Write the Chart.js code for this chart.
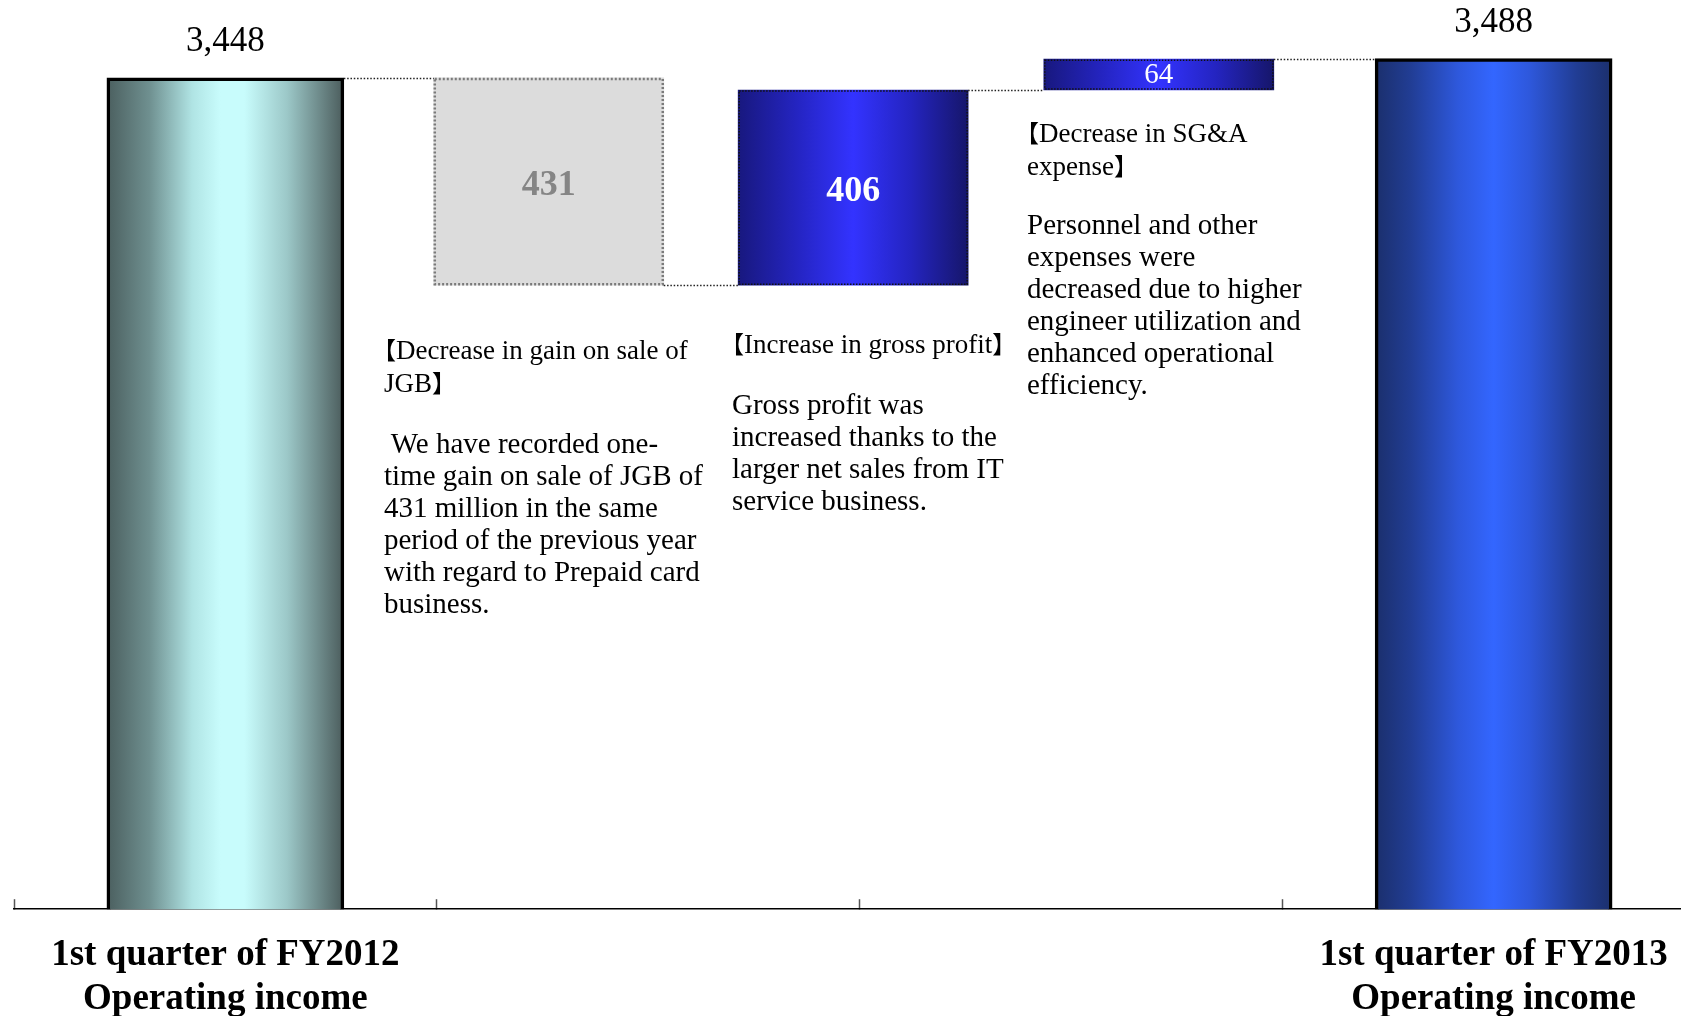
<!DOCTYPE html>
<html>
<head>
<meta charset="utf-8">
<title>Operating income bridge</title>
<script src="https://cdn.jsdelivr.net/npm/chart.js@4.4.1/dist/chart.umd.min.js"></script>
<style>
html, body { margin:0; padding:0; background:#fff; overflow:hidden; }
#wrap { position:relative; width:1720px; height:1056px; }
#wrap canvas { position:absolute; left:0; top:0; }
.note { position:absolute; font-family:"Liberation Serif","Times New Roman",serif; color:#000; white-space:pre; line-height:32px; }
.h { font-size:27px; line-height:31px; }
.b { font-size:29px; }
.br { font-family:"Noto Sans CJK JP",sans-serif; font-size:24px; margin-left:-12px; }
.br2 { font-family:"Noto Sans CJK JP",sans-serif; font-size:24px; }
</style>
</head>
<body>
<div id="wrap">
<canvas id="chart" width="1720" height="1056"></canvas>
<div class="note h" style="left:384px; top:333px"><span class="br">【</span>Decrease in gain on sale of
JGB<span class="br2">】</span></div>
<div class="note b" style="left:384px; top:427px"> We have recorded one-
time gain on sale of JGB of
431 million in the same
period of the previous year
with regard to Prepaid card
business.</div>
<div class="note h" style="left:732px; top:327px"><span class="br">【</span>Increase in gross profit<span class="br2">】</span></div>
<div class="note b" style="left:732px; top:388px">Gross profit was
increased thanks to the
larger net sales from IT
service business.</div>
<div class="note h" style="left:1027px; top:116px"><span class="br">【</span>Decrease in SG&amp;A
expense<span class="br2">】</span></div>
<div class="note b" style="left:1027px; top:208px">Personnel and other
expenses were
decreased due to higher
engineer utilization and
enhanced operational
efficiency.</div>
</div>
<script>
// values (million yen)
var categoryLabels = [['1st quarter of FY2012', 'Operating income'], ['1st quarter of FY2013', 'Operating income']];
var totalValues = [3448, 3488];
var stepValues = [-431, 406, 64];
// where each bar sits on the x axis (axis units, ticks every 1)
var totalSlots = [0.5, 3.5];
var stepSlots = [1.265, 1.985, 2.708];
var slotTicks = [0, 1, 2, 3, 4];

// running levels for the floating steps
var level = totalValues[0];
var levels = [level];
var stepData = [];
for (var i = 0; i < stepValues.length; i++) {
    var next = level + stepValues[i];
    stepData.push({x: stepSlots[i], y: [Math.min(level, next), Math.max(level, next)]});
    level = next;
    levels.push(level);
}
var totalData = [];
for (var i = 0; i < totalValues.length; i++) {
    totalData.push({x: totalSlots[i], y: totalValues[i]});
}

var tealStops = [[0, '#4b5f5f'], [0.18, '#6f9090'], [0.36, '#b0e4e4'], [0.48, '#c8fcfc'], [0.58, '#c8fcfc'], [0.76, '#9cc8c8'], [1, '#4b5c5c']];
var navyStops = [[0, '#1b2f6c'], [0.15, '#213d94'], [0.35, '#2e58dc'], [0.5, '#3366ff'], [0.65, '#2e58dc'], [0.85, '#213d94'], [1, '#1b2f6c']];
var blueStops = [[0, '#18187e'], [0.25, '#2424c0'], [0.5, '#3333ff'], [0.75, '#2424c0'], [1, '#16166a']];

function barGradient(ctx, stops) {
    var chart = ctx.chart;
    if (!chart.chartArea || !chart.scales.x) return stops[0][1];
    var cx = chart.scales.x.getPixelForValue(ctx.raw.x);
    var w = ctx.dataset.barThickness;
    var g = chart.ctx.createLinearGradient(cx - w / 2, 0, cx + w / 2, 0);
    for (var k = 0; k < stops.length; k++) g.addColorStop(stops[k][0], stops[k][1]);
    return g;
}

var waterfallDecor = {
    id: 'waterfallDecor',
    afterDatasetsDraw: function(chart) {
        var c = chart.ctx;
        var yS = chart.scales.y;
        var tot = chart.getDatasetMeta(0).data;
        var stp = chart.getDatasetMeta(1).data;
        var seq = [tot[0]].concat(stp, [tot[1]]);
        c.save();
        // dotted outlines of the steps
        for (var i = 0; i < stp.length; i++) {
            var el = stp[i];
            var top = Math.min(el.y, el.base), bot = Math.max(el.y, el.base);
            var left = el.x - el.width / 2;
            if (stepValues[i] < 0) {
                c.strokeStyle = '#7a7a7a'; c.lineWidth = 2.5; c.setLineDash([2, 2]);
            } else {
                c.strokeStyle = '#111'; c.lineWidth = 1.5; c.setLineDash([1.5, 1.5]);
            }
            c.strokeRect(left + 1, top + 1, el.width - 2, bot - top - 2);
        }
        // connectors
        c.strokeStyle = '#222'; c.lineWidth = 1.5; c.setLineDash([1.5, 1.8]);
        for (var k = 0; k < seq.length - 1; k++) {
            var y = Math.round(yS.getPixelForValue(levels[k])) + 0.5;
            c.beginPath();
            c.moveTo(seq[k].x + seq[k].width / 2, y);
            c.lineTo(seq[k + 1].x - seq[k + 1].width / 2, y);
            c.stroke();
        }
        c.setLineDash([]);
        // value labels
        c.textAlign = 'center';
        c.textBaseline = 'middle';
        c.fillStyle = '#000';
        c.font = '35px "Liberation Serif"';
        for (var i = 0; i < tot.length; i++) {
            c.fillText(totalValues[i].toLocaleString('en-US'), tot[i].x, tot[i].y - 36);
        }
        for (var i = 0; i < stp.length; i++) {
            var el = stp[i];
            var h = Math.abs(el.base - el.y);
            c.font = h > 80 ? 'bold 36px "Liberation Serif"' : '29px "Liberation Serif"';
            c.fillStyle = stepValues[i] < 0 ? '#858585' : '#fff';
            c.fillText(String(Math.abs(stepValues[i])), el.x, (el.y + el.base) / 2 + (h > 80 ? 4 : 1));
        }
        c.restore();
    }
};

var chart = new Chart(document.getElementById('chart'), {
    type: 'bar',
    data: {
        datasets: [{
            label: 'Operating income',
            data: totalData,
            barThickness: 237,
            grouped: false,
            borderWidth: 3.5,
            borderColor: '#000',
            borderSkipped: false,
            backgroundColor: function(ctx) {
                return barGradient(ctx, ctx.dataIndex === 0 ? tealStops : navyStops);
            }
        }, {
            label: 'Change',
            data: stepData,
            barThickness: 230,
            grouped: false,
            borderWidth: 0,
            backgroundColor: function(ctx) {
                return stepValues[ctx.dataIndex] < 0 ? '#dcdcdc' : barGradient(ctx, blueStops);
            }
        }]
    },
    options: {
        responsive: false,
        animation: false,
        layout: { padding: { left: 14, right: 15, top: 0, bottom: 0 } },
        plugins: { legend: { display: false }, tooltip: { enabled: false } },
        scales: {
            x: {
                type: 'linear',
                min: 0,
                max: 4,
                offset: false,
                afterBuildTicks: function(scale) {
                    var vals = slotTicks.concat(totalSlots).sort(function(a, b) { return a - b; });
                    scale.ticks = vals.map(function(v) { return {value: v}; });
                },
                afterFit: function(scale) {
                    scale.paddingLeft = 0;
                    scale.paddingRight = 0;
                },
                grid: {
                    offset: false,
                    drawOnChartArea: false,
                    drawTicks: true,
                    tickLength: -10,
                    tickWidth: 1.5,
                    tickColor: function(ctx) {
                        return ctx.tick && slotTicks.indexOf(ctx.tick.value) >= 0 ? '#555' : 'rgba(0,0,0,0)';
                    }
                },
                border: { display: true, color: '#000', width: 1.5 },
                ticks: {
                    autoSkip: false,
                    maxRotation: 0,
                    minRotation: 0,
                    padding: 34,
                    color: '#000',
                    font: { family: 'Liberation Serif', size: 37, weight: 'bold', lineHeight: 1.2 },
                    callback: function(value) {
                        var i = totalSlots.indexOf(value);
                        return i >= 0 ? categoryLabels[i] : '';
                    }
                }
            },
            y: {
                display: false,
                min: 1720,
                max: 3610,
                beginAtZero: false
            }
        }
    },
    plugins: [waterfallDecor]
});
</script>
</body>
</html>
